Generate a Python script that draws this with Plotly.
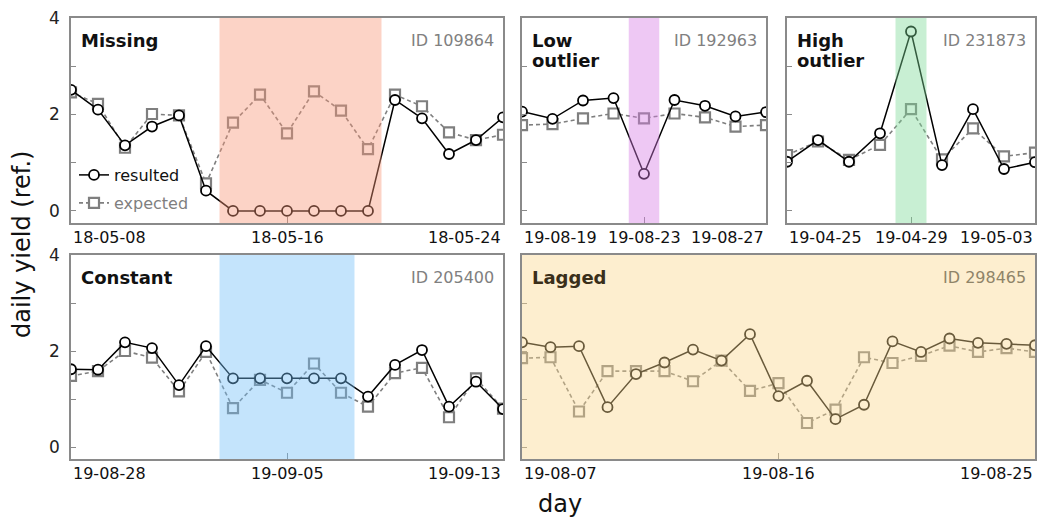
import datetime as dt
import plotly.graph_objects as go

# ---------------- data ----------------
panel_titles = [["Missing"], ["Low", "outlier"], ["High", "outlier"], ["Constant"], ["Lagged"]]
panel_ids = ["ID 109864", "ID 192963", "ID 231873", "ID 205400", "ID 298465"]
panel_starts = ["2018-05-08", "2019-08-19", "2019-04-25", "2019-08-28", "2019-08-07"]

missing_resulted = [2.51, 2.10, 1.36, 1.75, 1.98, 0.42, 0, 0, 0, 0, 0, 0, 2.30, 1.92, 1.18, 1.47, 1.94]
missing_expected = [2.46, 2.22, 1.31, 2.01, 1.98, 0.57, 1.83, 2.41, 1.61, 2.48, 2.08, 1.28, 2.41, 2.17, 1.63, 1.47, 1.58]

low_resulted = [2.06, 1.91, 2.29, 2.34, 0.77, 2.30, 2.18, 1.96, 2.05]
low_expected = [1.78, 1.80, 1.92, 2.02, 1.92, 2.02, 1.94, 1.75, 1.78]

high_resulted = [1.02, 1.47, 1.02, 1.61, 3.72, 0.95, 2.11, 0.87, 1.01]
high_expected = [1.16, 1.44, 1.06, 1.37, 2.11, 1.07, 1.71, 1.13, 1.21]

constant_resulted = [1.62, 1.61, 2.18, 2.06, 1.29, 2.10, 1.43, 1.43, 1.43, 1.43, 1.43, 1.05, 1.71, 2.02, 0.84, 1.36, 0.79]
constant_expected = [1.48, 1.58, 2.00, 1.86, 1.16, 1.98, 0.81, 1.40, 1.13, 1.74, 1.13, 0.84, 1.54, 1.65, 0.62, 1.43, 0.80]

lagged_resulted = [2.18, 2.08, 2.10, 0.83, 1.52, 1.76, 2.03, 1.80, 2.35, 1.06, 1.38, 0.58, 0.88, 2.20, 1.98, 2.26, 2.17, 2.15, 2.12]
lagged_expected = [1.85, 1.87, 0.74, 1.58, 1.58, 1.58, 1.37, 1.80, 1.17, 1.33, 0.50, 0.78, 1.87, 1.75, 1.90, 2.11, 1.98, 2.06, 1.98]

y_tick_vals = [0, 1, 2, 3, 4]
y_tick_text = ["0", "", "2", "", "4"]

resulted_series = [missing_resulted, low_resulted, high_resulted, constant_resulted, lagged_resulted]
expected_series = [missing_expected, low_expected, high_expected, constant_expected, lagged_expected]

# ---------------- layout / style ----------------
W, H = 1037, 521
FONT = "DejaVu Sans"
# pixel boxes (left, right, top, bottom)
boxes = [(71, 503, 18, 223), (522, 766, 18, 223), (787, 1035, 18, 223),
         (71, 503, 255, 459), (522, 1035, 255, 459)]
# shaded spans in day offsets from start (None = whole panel)
shade_spans = [(5.5, 11.5), (3.5, 4.5), (3.5, 4.5), (5.5, 10.5), None]
shade_colors = ["rgba(249,150,120,0.42)", "rgba(215,125,228,0.42)", "rgba(125,218,150,0.42)",
                "rgba(115,190,247,0.42)", "rgba(250,215,140,0.42)"]
title_colors = ["#111", "#111", "#111", "#111", "#3a2f1a"]
id_colors = ["#808080", "#808080", "#808080", "#808080", "#8f8468"]

GRAY = "#7f7f7f"
BORDER = "#8a8a8a"


def day(start, offset):
    return dt.datetime.fromisoformat(start) + dt.timedelta(days=offset)


fig = go.Figure()
layout = dict(width=W, height=H, margin=dict(l=0, r=0, t=0, b=0, autoexpand=False),
              plot_bgcolor="white", paper_bgcolor="white",
              font=dict(family=FONT, size=16, color="#111"))
shapes, annotations = [], []

for i in range(5):
    n = i + 1
    xa = "x" if n == 1 else f"x{n}"
    ya = "y" if n == 1 else f"y{n}"
    L, R, T, B = boxes[i]
    start = panel_starts[i]
    res = resulted_series[i]
    exp = expected_series[i]
    dates = [day(start, k) for k in range(len(res))]
    end = dates[-1]
    mid = day(start, (len(res) - 1) / 2)

    fig.add_trace(go.Scatter(
        x=dates, y=exp, xaxis=xa, yaxis=ya, mode="lines+markers", name="expected",
        line=dict(color=GRAY, width=1.6, dash="4px,3px"),
        marker=dict(symbol="square", size=10, color="white", line=dict(color=GRAY, width=2.2)),
        showlegend=(i == 0), legend="legend2"))
    fig.add_trace(go.Scatter(
        x=dates, y=res, xaxis=xa, yaxis=ya, mode="lines+markers", name="resulted",
        line=dict(color="black", width=1.5),
        marker=dict(symbol="circle", size=10, color="white", line=dict(color="black", width=1.8)),
        showlegend=(i == 0), legend="legend"))

    xkey = "xaxis" if n == 1 else f"xaxis{n}"
    ykey = "yaxis" if n == 1 else f"yaxis{n}"
    layout[xkey] = dict(domain=[L / W, R / W], anchor=ya, type="date", automargin=False,
                        range=[dates[0], end], tickvals=[mid], ticks="inside", ticklen=6,
                        tickcolor=BORDER, tickwidth=1.2, showticklabels=False,
                        showgrid=False, zeroline=False, showline=True, linecolor=BORDER,
                        linewidth=1.5, mirror=True)
    layout[ykey] = dict(domain=[1 - B / H, 1 - T / H], anchor=xa, range=[-0.25, 4],
                        automargin=False,
                        tickvals=y_tick_vals, ticktext=y_tick_text, ticks="inside", ticklen=5,
                        tickcolor=BORDER, tickwidth=1.2, showticklabels=(i in (0, 3)),
                        ticklabelstandoff=6, tickfont=dict(size=17, color="#222"),
                        showgrid=False, zeroline=False, showline=True, linecolor=BORDER,
                        linewidth=1.5, mirror=True)

    # shading overlay
    span = shade_spans[i]
    if span is None:
        shapes.append(dict(type="rect", xref=f"{xa} domain", yref=f"{ya} domain",
                           x0=0, x1=1, y0=0, y1=1, fillcolor=shade_colors[i],
                           line=dict(width=0), layer="above"))
    else:
        shapes.append(dict(type="rect", xref=xa, yref=f"{ya} domain",
                           x0=day(start, span[0]), x1=day(start, span[1]), y0=0, y1=1,
                           fillcolor=shade_colors[i], line=dict(width=0), layer="above"))

    # x tick labels (edge labels kept inside the panel)
    for xv, anchor in [(dates[0], "left"), (mid, "center"), (end, "right")]:
        annotations.append(dict(x=xv, xref=xa, y=0, yref=f"{ya} domain", yanchor="top",
                                yshift=-3, xanchor=anchor, showarrow=False,
                                text=xv.strftime("%y-%m-%d"),
                                font=dict(size=16, color="#111", family=FONT)))
    # panel title (one annotation per line) and ID
    for j, line in enumerate(panel_titles[i]):
        annotations.append(dict(x=0, xref=f"{xa} domain", y=1, yref=f"{ya} domain",
                                xanchor="left", yanchor="top", xshift=8, yshift=-10 - 20 * j,
                                text=f"<b>{line}</b>", showarrow=False, align="left",
                                font=dict(size=18, color=title_colors[i], family=FONT)))
    annotations.append(dict(x=1, xref=f"{xa} domain", y=1, yref=f"{ya} domain",
                            xanchor="right", yanchor="top", xshift=-7, yshift=-11,
                            text=panel_ids[i], showarrow=False,
                            font=dict(size=16, color=id_colors[i], family=FONT)))

# axis titles
annotations.append(dict(x=22 / W, y=1 - 245 / H, xref="paper", yref="paper", textangle=-90,
                        text="daily yield (ref.)", showarrow=False, xanchor="center",
                        yanchor="middle", font=dict(size=24, color="#111", family=FONT)))
annotations.append(dict(x=560 / W, y=1 - 504 / H, xref="paper", yref="paper",
                        text="day", showarrow=False, xanchor="center", yanchor="middle",
                        font=dict(size=24, color="#111", family=FONT)))

layout["shapes"] = shapes
layout["annotations"] = annotations
layout["legend"] = dict(x=74 / W, y=1 - 175 / H, xanchor="left", yanchor="middle",
                        bgcolor="rgba(0,0,0,0)", font=dict(size=16, color="#111", family=FONT),
                        tracegroupgap=0, itemwidth=30)
layout["legend2"] = dict(x=74 / W, y=1 - 203 / H, xanchor="left", yanchor="middle",
                         bgcolor="rgba(0,0,0,0)", font=dict(size=16, color=GRAY, family=FONT),
                         tracegroupgap=0, itemwidth=30)

fig.update_layout(**layout)
fig.write_html("out.html", config={"displayModeBar": False})

# remove default page margins so the figure fills the window exactly
with open("out.html", encoding="utf-8") as f:
    html = f.read()
html = html.replace("<head>", "<head><style>html,body{margin:0;padding:0;overflow:hidden}</style>", 1)
with open("out.html", "w", encoding="utf-8") as f:
    f.write(html)
